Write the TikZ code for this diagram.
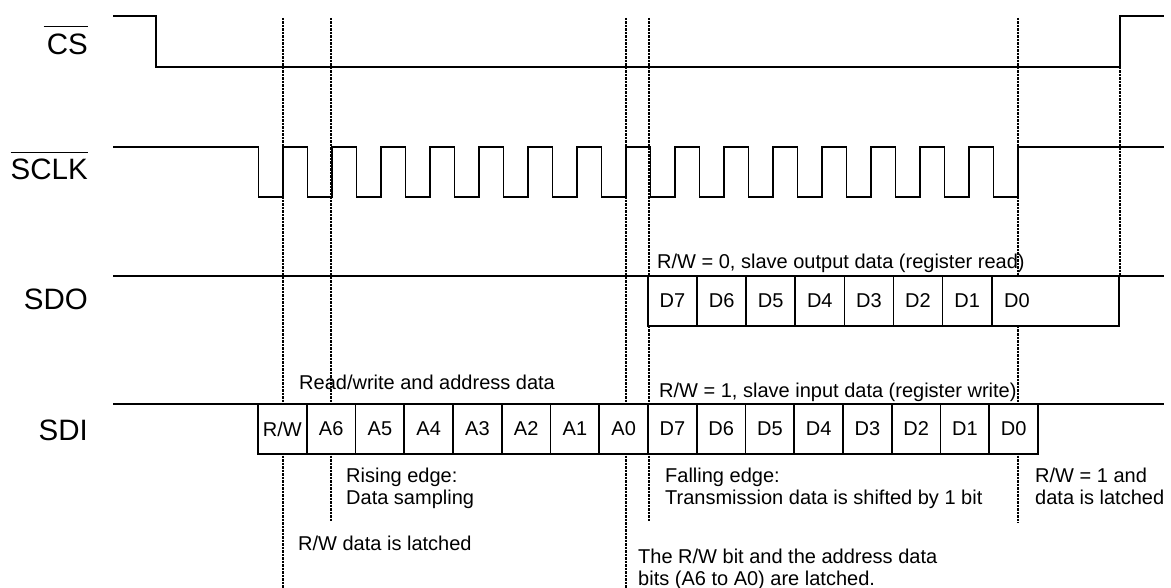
\documentclass[tikz,border=0pt]{standalone}
\usepackage{fontspec}
\setmainfont{Liberation Sans}
\begin{document}
\begin{tikzpicture}[x=1pt,y=-1pt,
        sig/.style={line width=1.6pt, line join=miter},
        marker/.style={line width=1.8pt, dash pattern=on 2.5pt off 1pt},
        signame/.style={anchor=base east, inner sep=0pt, font=\fontsize{29.5}{35}\selectfont},
        note/.style={anchor=base west, inner sep=0pt, font=\fontsize{20}{24}\selectfont},
        bitbox/.style={draw, fill=white, line width=1.6pt, minimum width=48.75pt, minimum height=50pt,
            inner sep=0pt, font=\fontsize{20}{24}\selectfont}]
    \useasboundingbox (0,0) rectangle (1171,588);

    % latch / edge markers
    \foreach \xm/\ym in {283/588, 331/522, 626/588, 649/522, 1018/523, 1120/276}
        \draw[marker] (\xm,18) -- (\xm,\ym);

    % signal names
    \node[signame] (cs) at (88,55) {CS};
    \node[signame] (sclk) at (88,180) {SCLK};
    \node[signame] (sdo) at (88,310) {SDO};
    \node[signame] (sdi) at (88,440) {SDI};
    \draw[line width=1.2pt] ([xshift=-3pt,yshift=8pt]cs.north west) -- ([yshift=8pt]cs.north east);
    \draw[line width=1.2pt] ([yshift=7pt]sclk.north west) -- ([yshift=7pt]sclk.north east);

    % waveforms
    \draw[sig] (113,16) -- (156,16) -- (156,67) -- (1120,67) -- (1120,16) -- (1164,16);
    \draw[sig] (113,147) foreach \k in {0,...,15}{
            -- ({258.5+49*\k},147) -- ({258.5+49*\k},197) -- ({283+49*\k},197) -- ({283+49*\k},147)}
        -- (1164,147);
    \draw[sig] (113,276) -- (1164,276);
    \draw[sig] (113,404) -- (1164,404);

    % SDO data bits
    \foreach \t [count=\i from 0] in {D7,D6,D5,D4,D3,D2,D1}
        \node[bitbox, minimum width=49.1pt] (sdo\i) at ({672.5+49.1*\i},301) {\t};
    \node[bitbox, minimum width=127.3pt] (sdo7) at (1055.4,301) {};
    \node[note, anchor=center] (sdod0) at (1017,301) {D0};

    % SDI bits
    \foreach \t [count=\i from 0] in {R/W,A6,A5,A4,A3,A2,A1,A0,D7,D6,D5,D4,D3,D2,D1,D0}
        \node[bitbox] (sdi\i) at ({282.4+48.75*\i},429) {\t};

    % notes
    \node[note] (rwaddr) at (299,389) {Read/write and address data};
    \node[note] (rdlbl) at (657,269) {R/W = 0, slave output data (register read)};
    \node[note] (wrlbl) at (659,397) {R/W = 1, slave input data (register write)};
    \node[note] (rise1) at (346,482) {Rising edge:};
    \node[note] (rise2) at (346,504) {Data sampling};
    \node[note] (rwlatch) at (298,550) {R/W data is latched};
    \node[note] (fall1) at (665,482) {Falling edge:};
    \node[note] (fall2) at (665,504) {Transmission data is shifted by 1 bit};
    \node[note] (adlatch1) at (638,563) {The R/W bit and the address data};
    \node[note] (adlatch2) at (638,585) {bits (A6 to A0) are latched.};
    \node[note] (wrlatch1) at (1035,482) {R/W = 1 and};
    \node[note] (wrlatch2) at (1035,504) {data is latched};
\end{tikzpicture}
\end{document}
